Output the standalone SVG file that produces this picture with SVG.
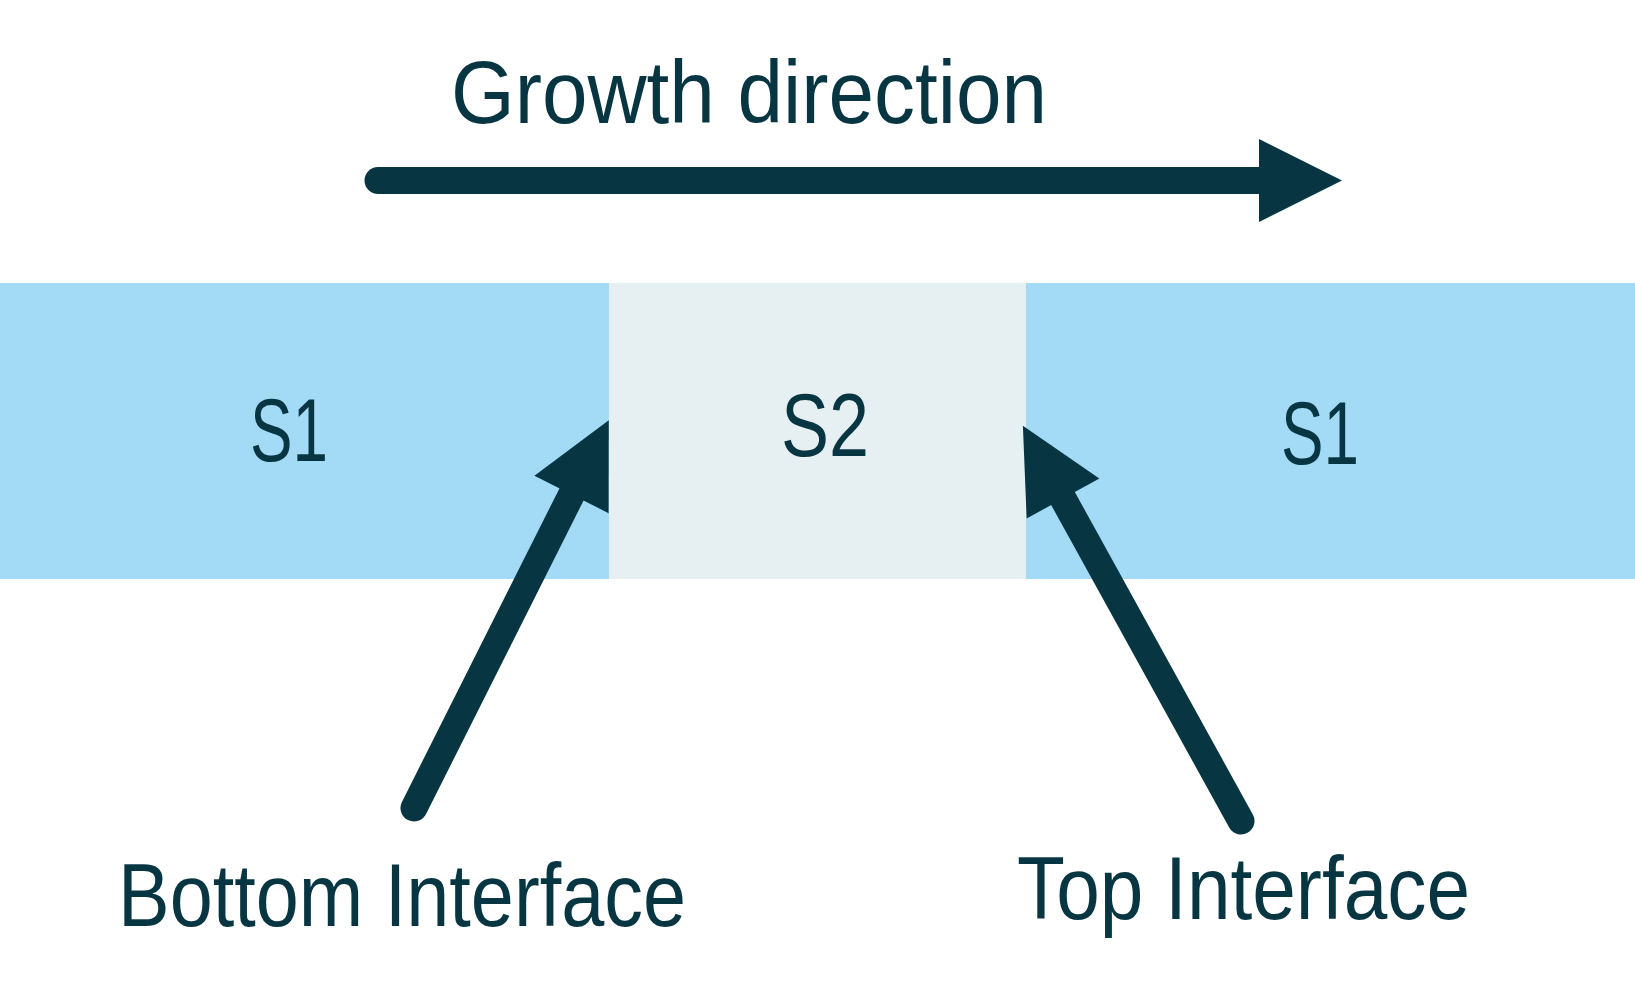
<svg xmlns="http://www.w3.org/2000/svg" width="1635" height="998" viewBox="0 0 1635 998">
  <style>
    .lbl { font-family: "Liberation Sans", Arial, sans-serif; font-size: 89px; fill: #073642; }
    .mid { text-anchor: middle; }
    .conn { stroke: #073642; stroke-width: 27; stroke-linecap: round; fill: none; }
    .s1 { fill: #A3DBF7; }
    .s2 { fill: #E6EFF1; }
  </style>
  <defs>
    <marker id="head" markerUnits="userSpaceOnUse" markerWidth="84" markerHeight="84" refX="0" refY="41.5" orient="auto" overflow="visible">
      <path d="M0,0 L83,41.5 L0,83 Z" fill="#073642"/>
    </marker>
  </defs>
  <rect width="1635" height="998" fill="#FFFFFF"/>

  <g id="growth-label">
    <text class="lbl" x="451" y="123" textLength="596" lengthAdjust="spacingAndGlyphs">Growth direction</text>
  </g>

  <g id="s1-left">
    <rect class="s1" x="0" y="283" width="609" height="296"/>
    <text class="lbl mid" x="289" y="461" textLength="78" lengthAdjust="spacingAndGlyphs">S1</text>
  </g>
  <g id="s2">
    <rect class="s2" x="609" y="283" width="417" height="296"/>
    <text class="lbl mid" x="825" y="456" textLength="88" lengthAdjust="spacingAndGlyphs">S2</text>
  </g>
  <g id="s1-right">
    <rect class="s1" x="1026" y="283" width="609" height="296"/>
    <text class="lbl mid" x="1320" y="464" textLength="78" lengthAdjust="spacingAndGlyphs">S1</text>
  </g>

  <g id="connectors">
    <line class="conn" x1="378" y1="180.5" x2="1259" y2="180.5" marker-end="url(#head)"/>
    <line class="conn" x1="414" y1="808" x2="571.5" y2="494.5" marker-end="url(#head)"/>
    <line class="conn" x1="1241" y1="821" x2="1063" y2="498.5" marker-end="url(#head)"/>
  </g>

  <g id="bottom-interface">
    <text class="lbl" x="118" y="926" textLength="568" lengthAdjust="spacingAndGlyphs">Bottom Interface</text>
  </g>
  <g id="top-interface">
    <text class="lbl" x="1017" y="919" textLength="453" lengthAdjust="spacingAndGlyphs">Top Interface</text>
  </g>
</svg>
